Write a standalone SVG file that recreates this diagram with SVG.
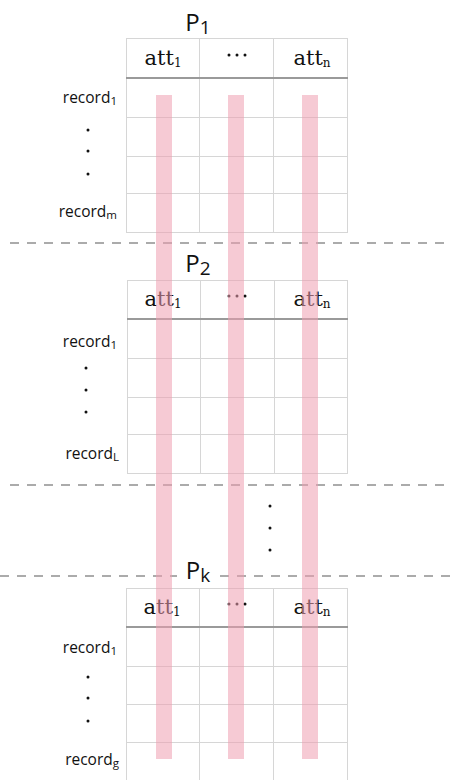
<svg xmlns="http://www.w3.org/2000/svg" width="452" height="780" viewBox="0 0 452 780">
<style>
.grid{stroke:#d6d6d6;stroke-width:1;fill:none}
.hdr{stroke:#9a9a9a;stroke-width:2}
.att{font-family:"DejaVu Serif",serif;font-size:21px;fill:#111;text-anchor:middle}
.sub{font-size:12px}
.rec{font-family:"Open Sans","Liberation Sans",sans-serif;font-size:15.5px;fill:#111;text-anchor:end}
.rsub{font-size:11.5px}
.title{font-family:"Open Sans","Liberation Sans",sans-serif;font-size:24px;fill:#111;text-anchor:middle}
.tsub{font-size:19px}
.dash{stroke:#ababab;stroke-width:2;stroke-dasharray:9 8}
.bar{fill:#ef9fb0;opacity:0.55}
.dot{fill:#111}
</style>
<defs>
<g id="hdots">
<circle class="dot" cx="-8" cy="0" r="1.5"/>
<circle class="dot" cx="0" cy="0" r="1.5"/>
<circle class="dot" cx="8" cy="0" r="1.5"/>
</g>
</defs>
<rect width="452" height="780" fill="#fff"/>

<g id="table1">
<text class="title" x="198" y="31">P<tspan class="tsub" dy="3">1</tspan></text>
<rect class="grid" x="126.5" y="38.5" width="221" height="194"/>
<line class="grid" x1="199.5" y1="38" x2="199.5" y2="233"/>
<line class="grid" x1="273.5" y1="38" x2="273.5" y2="233"/>
<line class="grid" x1="126" y1="117.5" x2="348" y2="117.5"/>
<line class="grid" x1="126" y1="156.5" x2="348" y2="156.5"/>
<line class="grid" x1="126" y1="193.5" x2="348" y2="193.5"/>
<line class="hdr" x1="126" y1="78" x2="348" y2="78"/>
<text class="att" x="163" y="65">att<tspan class="sub" dy="2">1</tspan></text>
<use href="#hdots" x="237" y="55"/>
<text class="att" x="312" y="65">att<tspan class="sub" dy="2">n</tspan></text>
<text class="rec" x="117" y="103">record<tspan class="rsub" dy="2">1</tspan></text>
<circle class="dot" cx="88" cy="130" r="1.5"/>
<circle class="dot" cx="88" cy="151" r="1.5"/>
<circle class="dot" cx="88" cy="174" r="1.5"/>
<text class="rec" x="117" y="217">record<tspan class="rsub" dy="2">m</tspan></text>
</g>

<g id="table2">
<text class="title" x="198" y="272">P<tspan class="tsub" dy="3">2</tspan></text>
<rect class="grid" x="127.5" y="280.5" width="220" height="193"/>
<line class="grid" x1="200.5" y1="280" x2="200.5" y2="474"/>
<line class="grid" x1="274.5" y1="280" x2="274.5" y2="474"/>
<line class="grid" x1="127" y1="358.5" x2="348" y2="358.5"/>
<line class="grid" x1="127" y1="397.5" x2="348" y2="397.5"/>
<line class="grid" x1="127" y1="434.5" x2="348" y2="434.5"/>
<line class="hdr" x1="127" y1="319" x2="348" y2="319"/>
<text class="att" x="163" y="306">att<tspan class="sub" dy="2">1</tspan></text>
<use href="#hdots" x="237" y="296"/>
<text class="att" x="312" y="306">att<tspan class="sub" dy="2">n</tspan></text>
<text class="rec" x="117" y="347">record<tspan class="rsub" dy="2">1</tspan></text>
<circle class="dot" cx="86" cy="368" r="1.5"/>
<circle class="dot" cx="86" cy="390" r="1.5"/>
<circle class="dot" cx="86" cy="412" r="1.5"/>
<text class="rec" x="119" y="459">record<tspan class="rsub" dy="2">L</tspan></text>
</g>

<g id="ellipsis">
<circle class="dot" cx="270" cy="506" r="1.5"/>
<circle class="dot" cx="270" cy="528" r="1.5"/>
<circle class="dot" cx="270" cy="550" r="1.5"/>
</g>

<g id="table3">
<text class="title" x="198" y="579">P<tspan class="tsub" dy="3">k</tspan></text>
<rect class="grid" x="126.5" y="588.5" width="221" height="200"/>
<line class="grid" x1="199.5" y1="588" x2="199.5" y2="780"/>
<line class="grid" x1="273.5" y1="588" x2="273.5" y2="780"/>
<line class="grid" x1="126" y1="666.5" x2="348" y2="666.5"/>
<line class="grid" x1="126" y1="704.5" x2="348" y2="704.5"/>
<line class="grid" x1="126" y1="742.5" x2="348" y2="742.5"/>
<line class="hdr" x1="126" y1="627" x2="348" y2="627"/>
<text class="att" x="162" y="614">att<tspan class="sub" dy="2">1</tspan></text>
<use href="#hdots" x="237" y="604"/>
<text class="att" x="312" y="614">att<tspan class="sub" dy="2">n</tspan></text>
<text class="rec" x="117" y="653">record<tspan class="rsub" dy="2">1</tspan></text>
<circle class="dot" cx="88" cy="677" r="1.5"/>
<circle class="dot" cx="88" cy="698" r="1.5"/>
<circle class="dot" cx="88" cy="721" r="1.5"/>
<text class="rec" x="119" y="765">record<tspan class="rsub" dy="2">g</tspan></text>
</g>

<g id="separators">
<line class="dash" x1="10" y1="243" x2="452" y2="243"/>
<line class="dash" x1="10" y1="485" x2="452" y2="485"/>
<line class="dash" x1="0" y1="576" x2="177" y2="576"/>
<line class="dash" x1="220" y1="576" x2="452" y2="576"/>
</g>

<g id="connectors">
<rect class="bar" x="156" y="95" width="16" height="664"/>
<rect class="bar" x="228" y="95" width="16" height="664"/>
<rect class="bar" x="302" y="95" width="16" height="664"/>
</g>
</svg>
